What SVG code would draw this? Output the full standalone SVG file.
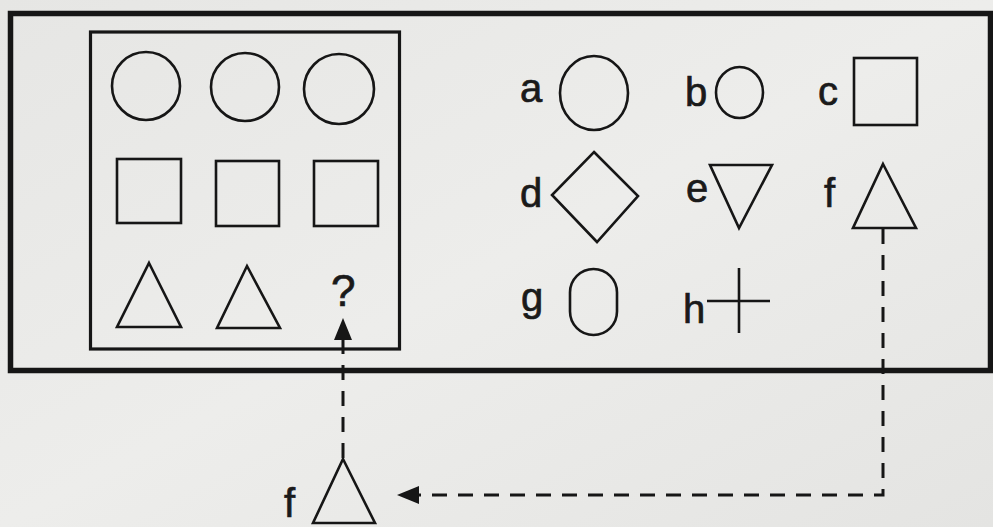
<svg xmlns="http://www.w3.org/2000/svg" width="993" height="527" viewBox="0 0 993 527">
  <defs>
    <linearGradient id="bg" x1="0" y1="0" x2="1" y2="1">
      <stop offset="0" stop-color="#e6e6e4"/>
      <stop offset="0.5" stop-color="#ededeb"/>
      <stop offset="1" stop-color="#e4e4e2"/>
    </linearGradient>
    <marker id="arrow" viewBox="0 0 22 18" markerWidth="22" markerHeight="18" refX="0" refY="9" orient="auto" markerUnits="userSpaceOnUse">
      <path d="M0,0 L22,9 L0,18 Z" fill="#161616"/>
    </marker>
    <style>
      .shape { fill: none; stroke: #161616; stroke-width: 2.6; stroke-linejoin: miter; }
      .lbl { font-family: "Liberation Sans", Arial, sans-serif; font-size: 40px; fill: #1a1a1a; stroke: #1a1a1a; stroke-width: 0.7; }
      .conn { fill: none; stroke: #161616; stroke-width: 3; stroke-dasharray: 15 11; }
    </style>
  </defs>
  <rect x="0" y="0" width="993" height="527" fill="url(#bg)"/>

  <g id="outer-frame">
    <rect x="10.5" y="13.5" width="980" height="357" fill="none" stroke="#161616" stroke-width="5.5"/>
  </g>

  <g id="matrix">
    <rect x="90.5" y="32" width="309" height="317" fill="none" stroke="#161616" stroke-width="3.2"/>
    <g id="m-circle-1"><circle class="shape" cx="146" cy="86" r="34"/></g>
    <g id="m-circle-2"><circle class="shape" cx="245" cy="87" r="34"/></g>
    <g id="m-circle-3"><circle class="shape" cx="339" cy="89" r="35"/></g>
    <g id="m-square-1"><rect class="shape" x="117" y="159" width="64" height="64"/></g>
    <g id="m-square-2"><rect class="shape" x="216" y="161" width="63" height="65"/></g>
    <g id="m-square-3"><rect class="shape" x="314" y="161" width="64" height="65"/></g>
    <g id="m-triangle-1"><polygon class="shape" points="149,263 181,327 117,327"/></g>
    <g id="m-triangle-2"><polygon class="shape" points="247,266 280,328 217,328"/></g>
    <g id="m-question"><text class="lbl" x="331" y="306" style="font-size:44px">?</text></g>
  </g>

  <g id="opt-a">
    <text class="lbl" x="520" y="102">a</text>
    <ellipse class="shape" cx="594" cy="93" rx="34" ry="37"/>
  </g>
  <g id="opt-b">
    <text class="lbl" x="685" y="106">b</text>
    <ellipse class="shape" cx="739.5" cy="92.5" rx="23.5" ry="25.5"/>
  </g>
  <g id="opt-c">
    <text class="lbl" x="818" y="105">c</text>
    <rect class="shape" x="854" y="58" width="63" height="67"/>
  </g>
  <g id="opt-d">
    <text class="lbl" x="520" y="207">d</text>
    <polygon class="shape" points="594,152 638,196 597,242 552,195"/>
  </g>
  <g id="opt-e">
    <text class="lbl" x="686" y="202">e</text>
    <polygon class="shape" points="710,165 772,165 739,228"/>
  </g>
  <g id="opt-f">
    <text class="lbl" x="824" y="207">f</text>
    <polygon class="shape" points="883,164 916,228 853,228"/>
  </g>
  <g id="opt-g">
    <text class="lbl" x="521" y="311">g</text>
    <rect class="shape" x="570" y="269" width="47" height="66" rx="23.5" ry="23.5"/>
  </g>
  <g id="opt-h">
    <text class="lbl" x="683" y="323">h</text>
    <path class="shape" d="M707,301 H770 M739,268 V333"/>
  </g>

  <g id="answer-f">
    <text class="lbl" x="284" y="517">f</text>
    <polygon class="shape" points="343,459 375,523 313,523"/>
  </g>

  <g id="connectors">
    <path class="conn" d="M883,229 V495 H419" marker-end="url(#arrow)"/>
    <path class="conn" d="M343,458 V340" marker-end="url(#arrow)"/>
  </g>
</svg>
